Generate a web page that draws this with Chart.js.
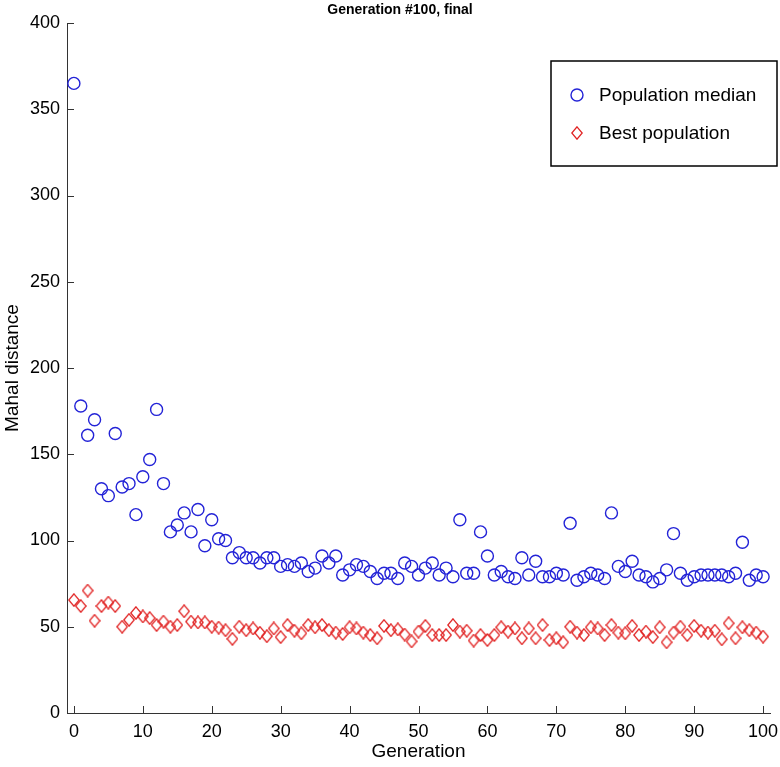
<!DOCTYPE html>
<html lang="en">
<head>
    <meta charset="UTF-8">
    <title>Generation #100, final</title>
    <script src="https://cdn.jsdelivr.net/npm/chart.js"></script>
    <style>
        html, body { margin: 0; padding: 0; background: #fff; }
        #wrap { width: 780px; height: 767px; }
    </style>
</head>
<body>
    <div id="wrap"><canvas id="gaChart" width="780" height="767"></canvas></div>

    <script>
        // Generation index (x) and the two series
        const generations = [0,1,2,3,4,5,6,7,8,9,10,11,12,13,14,15,16,17,18,19,20,
            21,22,23,24,25,26,27,28,29,30,31,32,33,34,35,36,37,38,39,40,
            41,42,43,44,45,46,47,48,49,50,51,52,53,54,55,56,57,58,59,60,
            61,62,63,64,65,66,67,68,69,70,71,72,73,74,75,76,77,78,79,80,
            81,82,83,84,85,86,87,88,89,90,91,92,93,94,95,96,97,98,99,100];

        const populationMedian = [365,178,161,170,130,126,162,131,133,115,137,147,176,133,105,109,116,105,118,97,112,
            101,100,90,93,90,90,87,90,90,85,86,85,87,82,84,91,87,91,80,83,
            86,85,82,78,81,81,78,87,85,80,84,87,80,84,79,112,81,81,105,91,
            80,82,79,78,90,80,88,79,79,81,80,110,77,79,81,80,78,116,85,82,
            88,80,79,76,78,83,104,81,77,79,80,80,80,80,79,81,99,77,80,79];

        const bestPopulation = [65.5,62,71,53.5,62,64,62,50,54,58,56,55,51,53,50,51,59,53,52.5,52.5,50,
            49.5,48,43,50,48,49,46.5,44.5,49,44,51,47.7,46.2,51,49.7,51,48,46.6,45.8,49.7,
            49,46.6,45.2,43.3,50.5,48,48.5,45.5,41.5,47.2,50.5,45.2,45.2,45.2,51,47.2,47.7,42,45.2,42.3,
            45.2,49.7,47.2,49,43.3,49,43.3,51,42.3,43.3,41,50,46.6,45.2,49.7,49,45.2,51,46.6,46.2,
            50.5,45.2,47.2,44,49.7,41,46.6,50,45.2,50.5,47.7,46.6,47.7,42.7,52,43.3,49.7,48,46.6,44.3];

        const xTicks = [0,10,20,30,40,50,60,70,80,90,100];
        const yTicks = [0,50,100,150,200,250,300,350,400];

        const chartTitle = 'Generation #100, final';
        const FONT = '"Liberation Sans", Arial, Helvetica, sans-serif';
        const BLUE = 'rgb(35,35,215)';
        const RED = 'rgb(225,35,35)';

        // Diamond marker (a bit taller than wide, like the original)
        function makeDiamond(w, h, color) {
            const c = document.createElement('canvas');
            c.width = w; c.height = h;
            const g = c.getContext('2d');
            g.strokeStyle = color;
            g.lineWidth = 1.3;
            g.beginPath();
            g.moveTo(w / 2, 0.8);
            g.lineTo(w - 0.8, h / 2);
            g.lineTo(w / 2, h - 0.8);
            g.lineTo(0.8, h / 2);
            g.closePath();
            g.stroke();
            return c;
        }
        const diamond = makeDiamond(12, 14, RED);

        // Inward ticks, boxed legend and title
        const extras = {
            id: 'extras',
            afterDraw(chart) {
                const ctx = chart.ctx;
                const area = chart.chartArea;
                const xs = chart.scales.x, ys = chart.scales.y;
                ctx.save();
                ctx.strokeStyle = '#333';
                ctx.lineWidth = 1;
                ctx.beginPath();
                xTicks.forEach(v => {
                    const px = Math.round(xs.getPixelForValue(v)) + 0.5;
                    ctx.moveTo(px, area.bottom);
                    ctx.lineTo(px, area.bottom - 7);
                });
                yTicks.forEach(v => {
                    const py = Math.round(ys.getPixelForValue(v)) + 0.5;
                    ctx.moveTo(area.left, py);
                    ctx.lineTo(area.left + 7, py);
                });
                ctx.stroke();

                // title
                ctx.fillStyle = '#000';
                ctx.font = 'bold 14px ' + FONT;
                ctx.textAlign = 'center';
                ctx.textBaseline = 'middle';
                ctx.fillText(chartTitle, 400, 10);

                // legend box
                ctx.fillStyle = '#fff';
                ctx.fillRect(551, 61, 226, 105);
                ctx.strokeStyle = '#000';
                ctx.lineWidth = 1.5;
                ctx.strokeRect(551, 61, 226, 105);

                const ds = chart.data.datasets;
                ctx.lineWidth = 1.4;
                ctx.strokeStyle = BLUE;
                ctx.beginPath();
                ctx.arc(577, 95, 6, 0, Math.PI * 2);
                ctx.stroke();
                ctx.drawImage(diamond, 577 - 6, 133 - 7);

                ctx.fillStyle = '#000';
                ctx.font = '19px ' + FONT;
                ctx.textAlign = 'left';
                ctx.fillText(ds[0].label, 599, 96);
                ctx.fillText(ds[1].label, 599, 134);
                ctx.restore();
            }
        };

        const ctx = document.getElementById('gaChart').getContext('2d');
        new Chart(ctx, {
            type: 'scatter',
            data: {
                datasets: [
                    {
                        label: 'Population median',
                        data: generations.map((g, i) => ({ x: g, y: populationMedian[i] })),
                        pointStyle: 'circle',
                        pointRadius: 6,
                        borderWidth: 1.4,
                        borderColor: BLUE,
                        backgroundColor: 'rgba(0,0,0,0)'
                    },
                    {
                        label: 'Best population',
                        data: generations.map((g, i) => ({ x: g, y: bestPopulation[i] })),
                        pointStyle: diamond,
                        pointRadius: 7,
                        borderColor: RED,
                        backgroundColor: 'rgba(0,0,0,0)'
                    }
                ]
            },
            options: {
                responsive: false,
                animation: false,
                events: [],
                layout: { padding: { top: 23, right: 10, left: 0, bottom: 0 } },
                plugins: {
                    legend: { display: false },
                    title: { display: false },
                    tooltip: { enabled: false }
                },
                scales: {
                    x: {
                        type: 'linear',
                        min: -1,
                        max: 101,
                        afterBuildTicks: s => { s.ticks = xTicks.map(v => ({ value: v })); },
                        afterFit: s => { s.height = 54; s.paddingLeft = 0; s.paddingRight = 0; },
                        grid: { drawOnChartArea: false, drawTicks: false },
                        border: { display: true, color: '#333', width: 1 },
                        ticks: { color: '#000', font: { family: FONT, size: 18 }, padding: 8, maxRotation: 0 },
                        title: { display: true, text: 'Generation', color: '#000',
                                 font: { family: FONT, size: 19 }, padding: { top: 0, bottom: 4 } }
                    },
                    y: {
                        min: 0,
                        max: 400,
                        afterBuildTicks: s => { s.ticks = yTicks.map(v => ({ value: v })); },
                        afterFit: s => { s.width = 67; s.paddingTop = 0; s.paddingBottom = 0; },
                        grid: { drawOnChartArea: false, drawTicks: false },
                        border: { display: true, color: '#333', width: 1 },
                        ticks: { color: '#000', font: { family: FONT, size: 18 }, padding: 7 },
                        title: { display: true, text: 'Mahal distance', color: '#000',
                                 font: { family: FONT, size: 19 }, padding: { top: 1, bottom: 0 } }
                    }
                }
            },
            plugins: [extras]
        });
    </script>
</body>
</html>
